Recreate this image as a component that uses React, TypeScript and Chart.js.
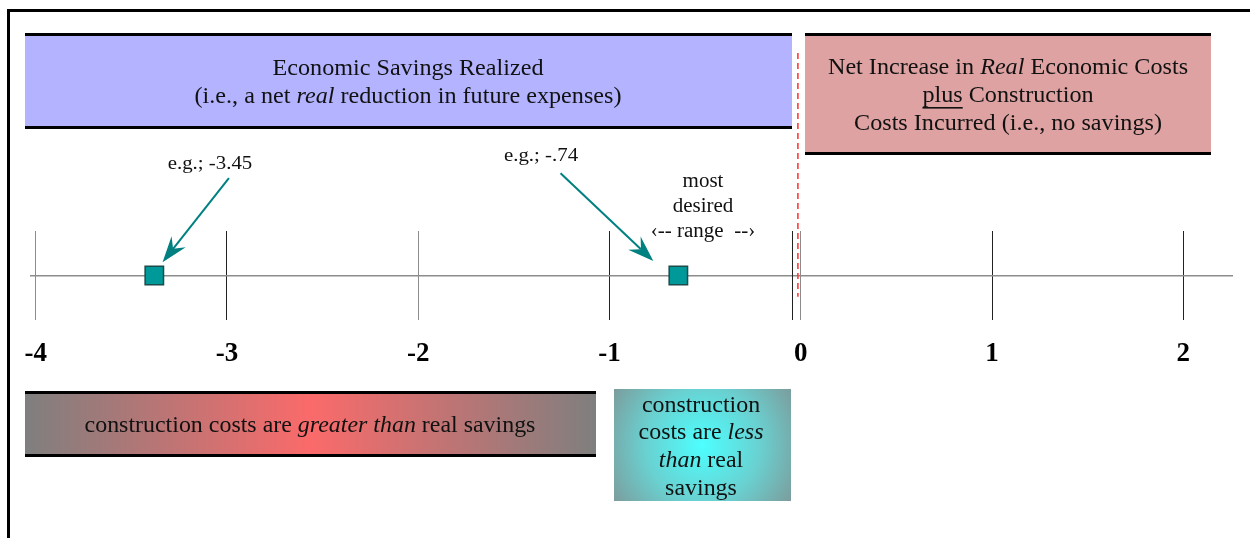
import { useEffect, useRef } from 'react';
import { Chart, registerables } from 'chart.js';

Chart.register(...registerables);

const FAMILY = '"Liberation Serif", "Times New Roman", Times, serif';

// ---- data ----
const tickValues = [-4, -3, -2, -1, 0, 1, 2];
const tickShades = ['gray', 'black', 'gray', 'black', 'gray', 'black', 'black'];
const exampleValues = [-3.38, -0.64];
const exampleLabels = ['e.g.; -3.45', 'e.g.; -.74'];
const extraTickValues = [-0.045];
const breakEvenValue = -0.015;
const breakEvenTop = 5.0;
const breakEvenBottom = -0.48;
const arrowTailX = [-2.99, -1.256];
const arrowTailY = [2.19, 2.3];
const arrowTipX = [-3.337, -0.771];
const arrowTipY = [0.3, 0.326];

type Run = { t: string; i?: boolean; u?: boolean };

const savingsLines: Run[][] = [
  [{ t: 'Economic Savings Realized' }],
  [{ t: '(i.e., a net ' }, { t: 'real', i: true }, { t: ' reduction in future expenses)' }],
];
const costLines: Run[][] = [
  [{ t: 'Net Increase in ' }, { t: 'Real', i: true }, { t: ' Economic Costs' }],
  [{ t: 'plus', u: true }, { t: ' Construction' }],
  [{ t: 'Costs Incurred (i.e., no savings)' }],
];
const greaterLines: Run[][] = [
  [{ t: 'construction costs are ' }, { t: 'greater than', i: true }, { t: ' real savings' }],
];
const lessLines: Run[][] = [
  [{ t: 'construction' }],
  [{ t: 'costs are ' }, { t: 'less', i: true }],
  [{ t: 'than', i: true }, { t: ' real' }],
  [{ t: 'savings' }],
];
const desiredLines: Run[][] = [[{ t: 'most' }], [{ t: 'desired' }], [{ t: '\u2039-- range  --\u203a' }]];

// ---- layout (pixels) ----
const L = {
  savings: { x0: 25, x1: 792, y0: 33, y1: 129, cx: 408, base: [75, 103] },
  cost: { x0: 805, x1: 1211, y0: 33, y1: 155, cx: 1008, base: [74, 102, 130] },
  greater: { x0: 25, x1: 596, y0: 391, y1: 457, cx: 310, base: [432] },
  less: { x0: 614, x1: 791, y0: 389, y1: 501, cx: 701, base: [412, 439, 467, 495] },
  desired: { cx: 703, base: [187, 212, 237] },
  examples: [
    { cx: 210, base: 169 },
    { cx: 541, base: 161 },
  ],
};

function drawRuns(ctx: CanvasRenderingContext2D, runs: Run[], cx: number, baseline: number, size: number, stretch: number) {
  const fontFor = (r: Run) => `${r.i ? 'italic ' : ''}${size}px ${FAMILY}`;
  let w = 0;
  const widths = runs.map((r) => {
    ctx.font = fontFor(r);
    const m = ctx.measureText(r.t).width;
    w += m;
    return m;
  });
  ctx.save();
  ctx.translate(cx, baseline);
  ctx.scale(stretch, 1);
  ctx.textAlign = 'left';
  ctx.textBaseline = 'alphabetic';
  ctx.fillStyle = '#111';
  let x = -w / 2;
  runs.forEach((r, k) => {
    ctx.font = fontFor(r);
    ctx.fillText(r.t, x, 0);
    if (r.u) ctx.fillRect(x, 5, widths[k], 1.6);
    x += widths[k];
  });
  ctx.restore();
}

function drawBand(ctx: CanvasRenderingContext2D, b: { x0: number; x1: number; y0: number; y1: number }) {
  ctx.fillStyle = '#000';
  ctx.fillRect(b.x0, b.y0, b.x1 - b.x0, 3);
  ctx.fillRect(b.x0, b.y1 - 3, b.x1 - b.x0, 3);
}

const overlay = {
  id: 'overlay',
  beforeDraw(chart: any) {
    const ctx: CanvasRenderingContext2D = chart.ctx;
    ctx.save();
    ctx.fillStyle = '#fff';
    ctx.fillRect(0, 0, chart.width, chart.height);
    // frame
    ctx.fillStyle = '#000';
    ctx.fillRect(7, 9, chart.width - 7, 3);
    ctx.fillRect(7, 9, 3, chart.height - 9);

    // savings band
    const s = L.savings;
    ctx.fillStyle = '#b3b3ff';
    ctx.fillRect(s.x0, s.y0, s.x1 - s.x0, s.y1 - s.y0);
    drawBand(ctx, s);
    savingsLines.forEach((ln, k) => drawRuns(ctx, ln, s.cx, s.base[k], 23, 1.05));

    // cost band
    const c = L.cost;
    ctx.fillStyle = '#dea2a2';
    ctx.fillRect(c.x0, c.y0, c.x1 - c.x0, c.y1 - c.y0);
    drawBand(ctx, c);
    costLines.forEach((ln, k) => drawRuns(ctx, ln, c.cx, c.base[k], 23, 1.05));

    // greater-than band
    const g = L.greater;
    const lg = ctx.createLinearGradient(g.x0, 0, g.x1, 0);
    lg.addColorStop(0, '#7f7f7f');
    lg.addColorStop(0.5, '#fb6a6a');
    lg.addColorStop(1, '#7f7f7f');
    ctx.fillStyle = lg;
    ctx.fillRect(g.x0, g.y0, g.x1 - g.x0, g.y1 - g.y0);
    drawBand(ctx, g);
    greaterLines.forEach((ln, k) => drawRuns(ctx, ln, g.cx, g.base[k], 23, 1.04));

    // less-than box
    const l = L.less;
    const cxl = (l.x0 + l.x1) / 2;
    const cyl = (l.y0 + l.y1) / 2;
    const rg = ctx.createRadialGradient(cxl, cyl, 0, cxl, cyl, 105);
    rg.addColorStop(0, '#4dffff');
    rg.addColorStop(0.55, '#6ad0d0');
    rg.addColorStop(1, '#7c9c9c');
    ctx.fillStyle = rg;
    ctx.fillRect(l.x0, l.y0, l.x1 - l.x0, l.y1 - l.y0);
    lessLines.forEach((ln, k) => drawRuns(ctx, ln, l.cx, l.base[k], 23, 1.04));

    // annotations
    desiredLines.forEach((ln, k) => drawRuns(ctx, ln, L.desired.cx, L.desired.base[k], 20, 1.05));
    exampleLabels.forEach((t, k) => drawRuns(ctx, [{ t }], L.examples[k].cx, L.examples[k].base, 19.5, 1.07));
    ctx.restore();
  },
  beforeDatasetsDraw(chart: any) {
    const ctx: CanvasRenderingContext2D = chart.ctx;
    const xs = chart.scales.x;
    const ys = chart.scales.y;
    const area = chart.chartArea;
    ctx.save();
    ctx.strokeStyle = '#222';
    ctx.lineWidth = 1;
    extraTickValues.forEach((v) => {
      const px = Math.round(xs.getPixelForValue(v)) + 0.5;
      ctx.beginPath();
      ctx.moveTo(px, area.top);
      ctx.lineTo(px, area.bottom);
      ctx.stroke();
    });
    // break-even dashed line
    const bx = xs.getPixelForValue(breakEvenValue);
    ctx.strokeStyle = '#ff3b3b';
    ctx.lineWidth = 1.6;
    ctx.setLineDash([6, 4]);
    ctx.beginPath();
    ctx.moveTo(bx, ys.getPixelForValue(breakEvenTop));
    ctx.lineTo(bx, ys.getPixelForValue(breakEvenBottom));
    ctx.stroke();
    ctx.restore();
  },
  afterDatasetsDraw(chart: any) {
    const ctx: CanvasRenderingContext2D = chart.ctx;
    const xs = chart.scales.x;
    const ys = chart.scales.y;
    ctx.save();
    ctx.strokeStyle = '#008080';
    ctx.fillStyle = '#008080';
    ctx.lineWidth = 2;
    arrowTailX.forEach((_, k) => {
      const x0 = xs.getPixelForValue(arrowTailX[k]);
      const y0 = ys.getPixelForValue(arrowTailY[k]);
      const x1 = xs.getPixelForValue(arrowTipX[k]);
      const y1 = ys.getPixelForValue(arrowTipY[k]);
      const ang = Math.atan2(y1 - y0, x1 - x0);
      const len = 26;
      const half = 9;
      const notch = 17;
      const bx = x1 - Math.cos(ang) * len;
      const by = y1 - Math.sin(ang) * len;
      const nx = x1 - Math.cos(ang) * notch;
      const ny = y1 - Math.sin(ang) * notch;
      ctx.beginPath();
      ctx.moveTo(x0, y0);
      ctx.lineTo(nx, ny);
      ctx.stroke();
      ctx.beginPath();
      ctx.moveTo(x1, y1);
      ctx.lineTo(bx + Math.sin(ang) * half, by - Math.cos(ang) * half);
      ctx.lineTo(nx, ny);
      ctx.lineTo(bx - Math.sin(ang) * half, by + Math.cos(ang) * half);
      ctx.closePath();
      ctx.fill();
    });
    ctx.restore();
  },
};

export default function App() {
  const ref = useRef<HTMLCanvasElement>(null);
  useEffect(() => {
    Chart.defaults.font.family = FAMILY;
    const chart = new Chart(ref.current as HTMLCanvasElement, {
      type: 'scatter',
      data: {
        datasets: [
          {
            data: exampleValues.map((x) => ({ x, y: 0 })),
            pointStyle: 'rect',
            pointRadius: 13,
            backgroundColor: '#009999',
            borderColor: '#1d4a4a',
            borderWidth: 1.5,
          },
        ],
      },
      options: {
        responsive: false,
        devicePixelRatio: 1,
        animation: false,
        events: [],
        layout: { padding: { top: 231, left: 30, right: 17, bottom: 0 } },
        plugins: { legend: { display: false }, tooltip: { enabled: false } },
        scales: {
          x: {
            type: 'linear',
            min: -4.03,
            max: 2.26,
            afterBuildTicks: (s: any) => {
              s.ticks = tickValues.map((value) => ({ value }));
            },
            afterFit: (s: any) => {
              s.height = 538 - 320;
            },
            border: { display: false },
            grid: {
              drawTicks: false,
              lineWidth: 1,
              color: (c: any) => (tickShades[c.index] === 'gray' ? '#8c8c8c' : '#222222'),
            },
            ticks: {
              padding: 18,
              color: '#000',
              font: { family: FAMILY, size: 27, weight: 'bold' },
              callback: (v: any) => String(v),
            },
          },
          y: {
            type: 'linear',
            min: -1,
            max: 1,
            afterBuildTicks: (s: any) => {
              s.ticks = [{ value: 0 }];
            },
            afterFit: (s: any) => {
              s.width = 0;
            },
            border: { display: false },
            grid: { drawTicks: false, lineWidth: 1.5, color: '#8c8c8c' },
            ticks: { display: false },
          },
        },
      },
      plugins: [overlay],
    });
    return () => chart.destroy();
  }, []);
  return (
    <div style={{ position: 'fixed', left: 0, top: 0, width: 1250, height: 538, background: '#fff' }}>
      <canvas ref={ref} width={1250} height={538} style={{ display: 'block', width: 1250, height: 538 }} />
    </div>
  );
}
